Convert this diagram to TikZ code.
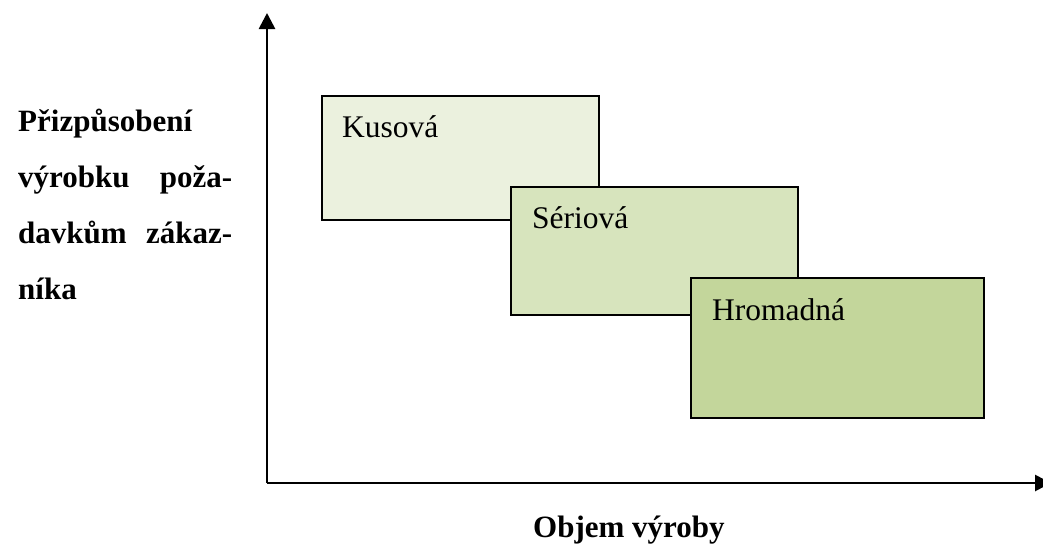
\documentclass[tikz,border=0pt]{standalone}
\usepackage{fontspec}
\setmainfont{Liberation Serif}
\usetikzlibrary{arrows.meta}
\definecolor{boxA}{HTML}{EBF1DE}
\definecolor{boxB}{HTML}{D7E4BD}
\definecolor{boxC}{HTML}{C3D69B}
\begin{document}
\begin{tikzpicture}[x=1pt,y=-1pt,
  axis/.style={line width=2.7pt,-{Triangle[length=16pt,width=16pt]}},
  kind/.style={draw=black,line width=1.4pt},
  kindlabel/.style={anchor=base west,inner sep=0pt,font=\fontsize{31.5}{36}\selectfont},
  axislabel/.style={inner sep=0pt,font=\bfseries\fontsize{31}{56}\selectfont}]
  \useasboundingbox (0,0) rectangle (1043,546);
  % axes
  \coordinate (origin) at (267,483);
  \coordinate (ytip) at (267,13);
  \coordinate (xtip) at (1051,483);
  \draw[axis] (origin) -- (ytip);
  \draw[axis] (origin) -- (xtip);
  % production types
  \filldraw[kind,fill=boxA] (322,96) rectangle (599,220);
  \filldraw[kind,fill=boxB] (511,187) rectangle (798,315);
  \filldraw[kind,fill=boxC] (691,278) rectangle (984,418);
  \node[kindlabel] (kus) at (342,137) {Kusová};
  \node[kindlabel] (ser) at (532,228) {Sériová};
  \node[kindlabel] (hro) at (712,320) {Hromadná};
  % axis labels
  \node[axislabel,anchor=base west,text width=214pt,align=left] (ylab) at (18,131)
    {Přizpůsobení\\výrobku\hfill poža-\\davkům\hfill zákaz-\\níka};
  \node[axislabel,anchor=base west] (xlab) at (533,537) {Objem výroby};
\end{tikzpicture}
\end{document}
